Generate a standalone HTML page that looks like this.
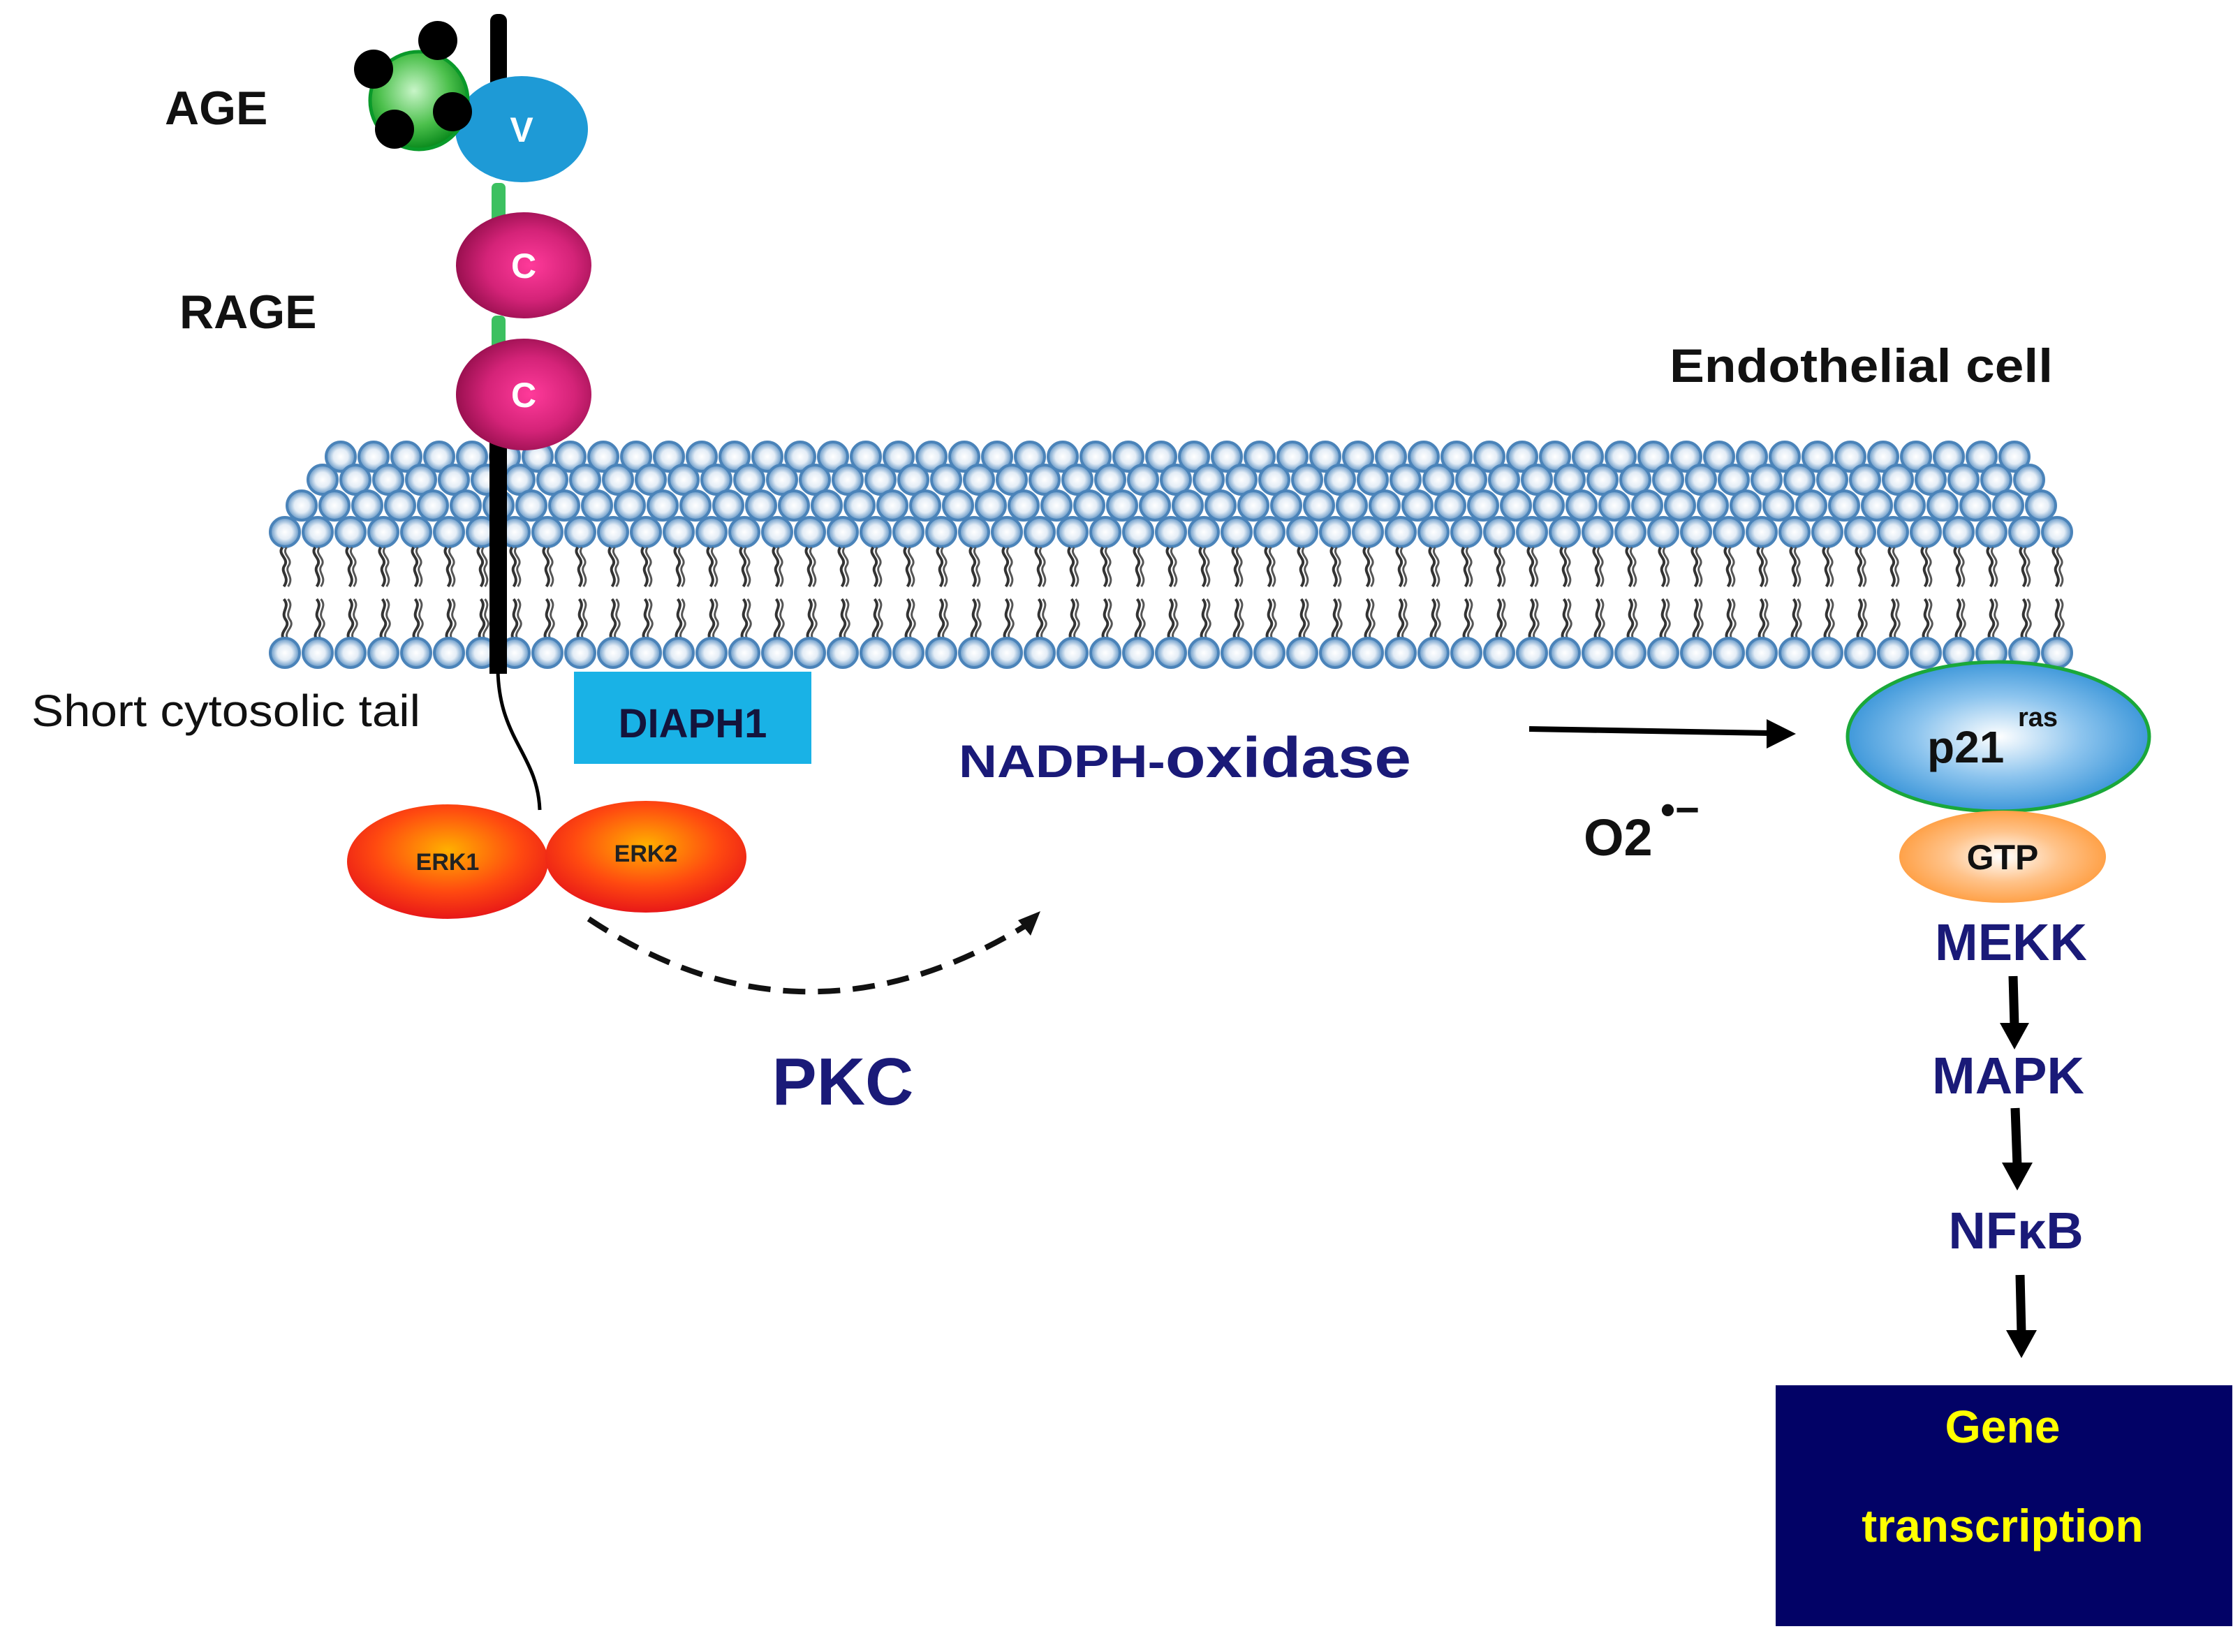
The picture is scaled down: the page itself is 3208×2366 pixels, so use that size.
<!DOCTYPE html>
<html><head><meta charset="utf-8"><style>
html,body{margin:0;padding:0;background:#fff;}
svg{display:block;}
text{font-family:"Liberation Sans",sans-serif;}
</style></head><body>
<svg width="3208" height="2366" viewBox="0 0 3208 2366" xmlns="http://www.w3.org/2000/svg">
<defs>
<radialGradient id="bead" cx="50%" cy="50%" r="50%">
<stop offset="0" stop-color="#ffffff"/><stop offset="0.5" stop-color="#e4edf6"/><stop offset="1" stop-color="#5d92c4"/>
</radialGradient>
<pattern id="r1" patternUnits="userSpaceOnUse" x="464.5" y="630" width="47" height="48"><circle cx="23.5" cy="24" r="21" fill="url(#bead)" stroke="#4a83b9" stroke-width="4"/></pattern>
<pattern id="r2" patternUnits="userSpaceOnUse" x="438.5" y="663" width="47" height="48"><circle cx="23.5" cy="24" r="21" fill="url(#bead)" stroke="#4a83b9" stroke-width="4"/></pattern>
<pattern id="r3" patternUnits="userSpaceOnUse" x="408.5" y="700" width="47" height="48"><circle cx="23.5" cy="24" r="21" fill="url(#bead)" stroke="#4a83b9" stroke-width="4"/></pattern>
<pattern id="r4" patternUnits="userSpaceOnUse" x="384.5" y="738" width="47" height="48"><circle cx="23.5" cy="24" r="21" fill="url(#bead)" stroke="#4a83b9" stroke-width="4"/></pattern>
<pattern id="r5" patternUnits="userSpaceOnUse" x="384.5" y="911" width="47" height="48"><circle cx="23.5" cy="24" r="21" fill="url(#bead)" stroke="#4a83b9" stroke-width="4"/></pattern>
<pattern id="t1" patternUnits="userSpaceOnUse" x="384.5" y="782" width="47" height="60"><path d="M20,2 C12,12 30,18 23,28 C16,38 32,44 22,58" fill="none" stroke="#333" stroke-width="4"/><path d="M26,2 C18,12 36,18 29,28 C22,38 38,44 28,58" fill="none" stroke="#555" stroke-width="3"/></pattern>
<pattern id="t2" patternUnits="userSpaceOnUse" x="384.5" y="856" width="47" height="60"><path d="M22,2 C32,14 16,20 25,32 C32,42 16,48 21,58" fill="none" stroke="#333" stroke-width="4"/><path d="M28,2 C38,14 22,20 31,32 C38,42 22,48 27,58" fill="none" stroke="#555" stroke-width="3"/></pattern>
<radialGradient id="green" cx="45%" cy="40%" r="60%"><stop offset="0" stop-color="#c8f5c8"/><stop offset="0.6" stop-color="#4cc04c"/><stop offset="1" stop-color="#0a8a1c"/></radialGradient>
<radialGradient id="mag" cx="55%" cy="50%" r="55%"><stop offset="0" stop-color="#ff3a9a"/><stop offset="0.6" stop-color="#d42378"/><stop offset="1" stop-color="#9a1050"/></radialGradient>
<radialGradient id="erk" cx="50%" cy="40%" r="60%"><stop offset="0" stop-color="#ffb000"/><stop offset="0.6" stop-color="#ff4a10"/><stop offset="1" stop-color="#e81818"/></radialGradient>
<radialGradient id="p21" cx="50%" cy="50%" r="55%"><stop offset="0" stop-color="#ffffff"/><stop offset="0.5" stop-color="#8cc4ee"/><stop offset="1" stop-color="#2f8fd6"/></radialGradient>
<radialGradient id="gtp" cx="50%" cy="50%" r="55%"><stop offset="0" stop-color="#ffffff"/><stop offset="0.5" stop-color="#ffc38a"/><stop offset="1" stop-color="#ff9a3a"/></radialGradient>
</defs>

<!-- membrane -->
<rect x="464" y="630" width="2444" height="48" fill="url(#r1)"/>
<rect x="438" y="663" width="2491" height="48" fill="url(#r2)"/>
<rect x="408" y="700" width="2538" height="48" fill="url(#r3)"/>
<rect x="384" y="738" width="2585" height="48" fill="url(#r4)"/>
<rect x="384" y="782" width="2585" height="60" fill="url(#t1)"/>
<rect x="384" y="856" width="2585" height="60" fill="url(#t2)"/>
<rect x="384" y="911" width="2585" height="48" fill="url(#r5)"/>

<!-- RAGE stalk -->
<rect x="702" y="20" width="24" height="120" rx="10" fill="#000"/>
<rect x="701" y="600" width="25" height="365" fill="#000"/>
<path d="M713,960 C715,1060 770,1080 773,1160" fill="none" stroke="#000" stroke-width="5"/>
<rect x="704" y="262" width="20" height="70" rx="7" fill="#3cc060"/>
<rect x="704" y="452" width="20" height="60" rx="7" fill="#3cc060"/>
<ellipse cx="747" cy="185" rx="95" ry="76" fill="#1e9ad6"/>
<text x="747" y="203" font-size="50" font-weight="bold" fill="#fff" text-anchor="middle">V</text>
<ellipse cx="750" cy="380" rx="97" ry="76" fill="url(#mag)"/>
<text x="750" y="398" font-size="50" font-weight="bold" fill="#fff" text-anchor="middle">C</text>
<ellipse cx="750" cy="565" rx="97" ry="80" fill="url(#mag)"/>
<text x="750" y="583" font-size="50" font-weight="bold" fill="#fff" text-anchor="middle">C</text>
<!-- AGE -->
<circle cx="600" cy="144" r="70" fill="url(#green)" stroke="#0a9a2a" stroke-width="5"/>
<circle cx="535" cy="99" r="28" fill="#000"/>
<circle cx="627" cy="58" r="28" fill="#000"/>
<circle cx="565" cy="185" r="28" fill="#000"/>
<circle cx="648" cy="160" r="28" fill="#000"/>

<text x="236" y="178" font-size="68" font-weight="bold" fill="#111">AGE</text>
<text x="257" y="470" font-size="68" font-weight="bold" fill="#111">RAGE</text>
<text x="2391" y="547" font-size="68" font-weight="bold" fill="#111" textLength="549" lengthAdjust="spacingAndGlyphs">Endothelial cell</text>
<text x="45" y="1040" font-size="64" fill="#111" textLength="557" lengthAdjust="spacingAndGlyphs">Short cytosolic tail</text>

<rect x="822" y="962" width="340" height="132" fill="#19b2e6"/>
<text x="992" y="1056" font-size="58" font-weight="bold" fill="#14143c" text-anchor="middle">DIAPH1</text>

<text x="1373" y="1113" font-weight="bold" fill="#1a1a78" textLength="648" lengthAdjust="spacingAndGlyphs"><tspan font-size="66">NADPH-</tspan><tspan font-size="82">oxidase</tspan></text>

<!-- ERK -->
<ellipse cx="641" cy="1234" rx="144" ry="82" fill="url(#erk)"/>
<text x="641" y="1246" font-size="34" font-weight="bold" fill="#222" text-anchor="middle">ERK1</text>
<ellipse cx="925" cy="1227" rx="144" ry="80" fill="url(#erk)"/>
<text x="925" y="1234" font-size="34" font-weight="bold" fill="#222" text-anchor="middle">ERK2</text>

<!-- dashed curve -->
<path d="M843,1316 Q1150,1520 1470,1325" fill="none" stroke="#111" stroke-width="8" stroke-dasharray="32 18"/>
<polygon points="1490,1305 1458,1318 1476,1340" fill="#111"/>
<text x="1207" y="1582" font-size="96" font-weight="bold" fill="#1a1a78" text-anchor="middle">PKC</text>

<!-- arrow to p21 -->
<line x1="2190" y1="1044" x2="2535" y2="1050" stroke="#000" stroke-width="8"/>
<polygon points="2572,1051 2530,1030 2530,1072" fill="#000"/>
<text x="2268" y="1225" font-size="74" font-weight="bold" fill="#111">O2</text>
<text x="2378" y="1180" font-size="60" font-weight="bold" fill="#111">•−</text>

<ellipse cx="2862" cy="1055" rx="216" ry="107" fill="url(#p21)" stroke="#1aa83a" stroke-width="5"/>
<text x="2760" y="1092" font-size="64" font-weight="bold" fill="#111">p21</text>
<text x="2890" y="1040" font-size="38" font-weight="bold" fill="#111">ras</text>
<ellipse cx="2868" cy="1227" rx="148" ry="66" fill="url(#gtp)"/>
<text x="2868" y="1245" font-size="50" font-weight="bold" fill="#111" text-anchor="middle">GTP</text>

<text x="2880" y="1375" font-size="74" font-weight="bold" fill="#1a1a78" text-anchor="middle">MEKK</text>
<line x1="2883" y1="1398" x2="2885" y2="1470" stroke="#000" stroke-width="13"/>
<polygon points="2864,1465 2906,1465 2885,1503" fill="#000"/>
<text x="2876" y="1566" font-size="74" font-weight="bold" fill="#1a1a78" text-anchor="middle">MAPK</text>
<line x1="2886" y1="1587" x2="2889" y2="1670" stroke="#000" stroke-width="13"/>
<polygon points="2867,1665 2911,1665 2889,1705" fill="#000"/>
<text x="2887" y="1788" font-size="74" font-weight="bold" fill="#1a1a78" text-anchor="middle">NFκB</text>
<line x1="2893" y1="1826" x2="2895" y2="1910" stroke="#000" stroke-width="13"/>
<polygon points="2873,1905 2917,1905 2895,1945" fill="#000"/>

<rect x="2543" y="1984" width="654" height="345" fill="#020266"/>
<text x="2868" y="2066" font-size="66" font-weight="bold" fill="#ffff00" text-anchor="middle">Gene</text>
<text x="2868" y="2208" font-size="66" font-weight="bold" fill="#ffff00" text-anchor="middle">transcription</text>
</svg>
</body></html>
